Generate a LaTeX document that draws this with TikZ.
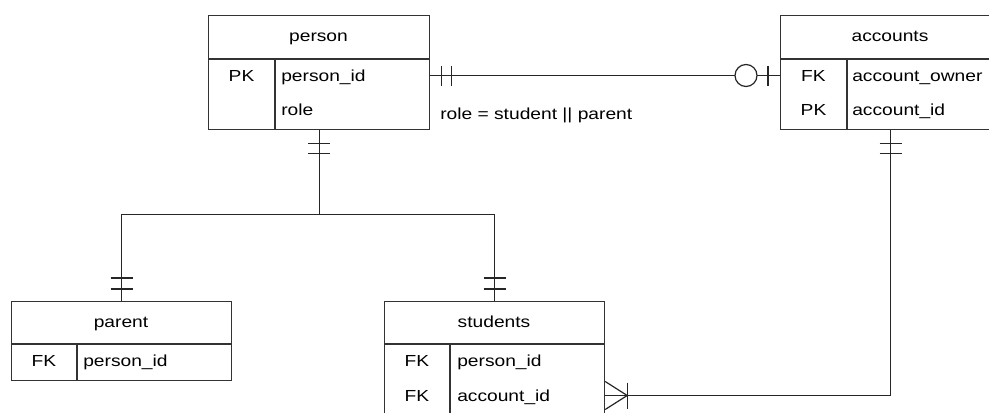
\documentclass[tikz,border=0pt]{standalone}
\usepackage{fontspec}
\setmainfont{Liberation Sans}[FakeStretch=1.2]
\usetikzlibrary{positioning,calc}

\tikzset{
  tbl/.style={draw=black!80, line width=0.9pt, inner sep=0pt, anchor=north west},
  sep/.style={draw=black!80, line width=0.9pt},
  rel/.style={draw=black!85, line width=0.9pt},
  ttl/.style={font=\fontsize{12}{14}\selectfont, inner sep=0pt, anchor=base},
  key/.style={font=\fontsize{12}{14}\selectfont, inner sep=0pt, anchor=base},
  fld/.style={font=\fontsize{12}{14}\selectfont, inner sep=0pt, anchor=base west}
}

\begin{document}
\begin{tikzpicture}[x=0.75pt, y=-0.75pt]

\useasboundingbox (0,0) rectangle (989,412);
\clip (0,0) rectangle (989,412);

% person table
\node[tbl, minimum width=221*0.75pt, minimum height=114*0.75pt] (person) at (208,15) {};
\draw[sep] (208,59) -- (429,59);
\draw[sep] (275,59) -- (275,129);
\node[ttl] (person-title) at (318.5,41) {person};
\node[key] (person-pk) at (241.5,81) {PK};
\node[fld] (person-pid) at (281,81) {person\_id};
\node[fld] (person-role) at (281,115) {role};

% accounts table (runs past the right edge)
\node[tbl, minimum width=220*0.75pt, minimum height=114*0.75pt] (accounts) at (780,15) {};
\draw[sep] (780,59) -- (1000,59);
\draw[sep] (847,59) -- (847,129);
\node[ttl] (accounts-title) at (890,41) {accounts};
\node[key] (accounts-fk) at (813.5,81) {FK};
\node[fld] (accounts-owner) at (852,81) {account\_owner};
\node[key] (accounts-pk) at (813.5,115) {PK};
\node[fld] (accounts-aid) at (852,115) {account\_id};

% parent table
\node[tbl, minimum width=220*0.75pt, minimum height=79*0.75pt] (parent) at (11,301) {};
\draw[sep] (11,344) -- (231,344);
\draw[sep] (77,344) -- (77,380);
\node[ttl] (parent-title) at (121,327) {parent};
\node[key] (parent-fk) at (44,366) {FK};
\node[fld] (parent-pid) at (83,366) {person\_id};

% students table (runs past the bottom edge)
\node[tbl, minimum width=220*0.75pt, minimum height=113*0.75pt] (students) at (384,301) {};
\draw[sep] (384,344) -- (604,344);
\draw[sep] (450,344) -- (450,414);
\node[ttl] (students-title) at (494,327) {students};
\node[key] (students-fk1) at (417,366) {FK};
\node[fld] (students-pid) at (457,366) {person\_id};
\node[key] (students-fk2) at (417,401) {FK};
\node[fld] (students-aid) at (457,401) {account\_id};

% person -- accounts
\draw[rel] (person.east |- person-pk) -- (accounts.west |- person-pk);
\draw[rel] ($(person.east |- person-pk)+(11,-10)$) -- ++(0,20);
\draw[rel] ($(person.east |- person-pk)+(21,-10)$) -- ++(0,20);
\draw[rel, fill=white] ($(accounts.west |- person-pk)+(-34,0)$) circle[radius=11];
\draw[rel] ($(accounts.west |- person-pk)+(-12,-10)$) -- ++(0,20);
\node[fld] (role-note) at (440,119) {role = student || parent};

% person -- parent / students
\draw[rel] (person.south) -- ++(0,84) coordinate (split);
\draw[rel] (split) -| (parent.north);
\draw[rel] (split) -| (students.north);
\draw[rel] ($(person.south)+(-11,13)$) -- ++(22,0);
\draw[rel] ($(person.south)+(-11,23)$) -- ++(22,0);
\draw[rel] ($(parent.north)+(-11,-23)$) -- ++(22,0);
\draw[rel] ($(parent.north)+(-11,-12)$) -- ++(22,0);
\draw[rel] ($(students.north)+(-11,-23)$) -- ++(22,0);
\draw[rel] ($(students.north)+(-11,-12)$) -- ++(22,0);

% accounts -- students
\draw[rel] (accounts.south) |- (students.east |- students-fk2);
\draw[rel] ($(accounts.south)+(-11,13)$) -- ++(22,0);
\draw[rel] ($(accounts.south)+(-11,23)$) -- ++(22,0);
\draw[rel] ($(students.east |- students-fk2)+(0,-14)$) -- ++(22,14) -- ++(-22,14);
\draw[rel] ($(students.east |- students-fk2)+(22,-13)$) -- ++(0,26);

\end{tikzpicture}
\end{document}
